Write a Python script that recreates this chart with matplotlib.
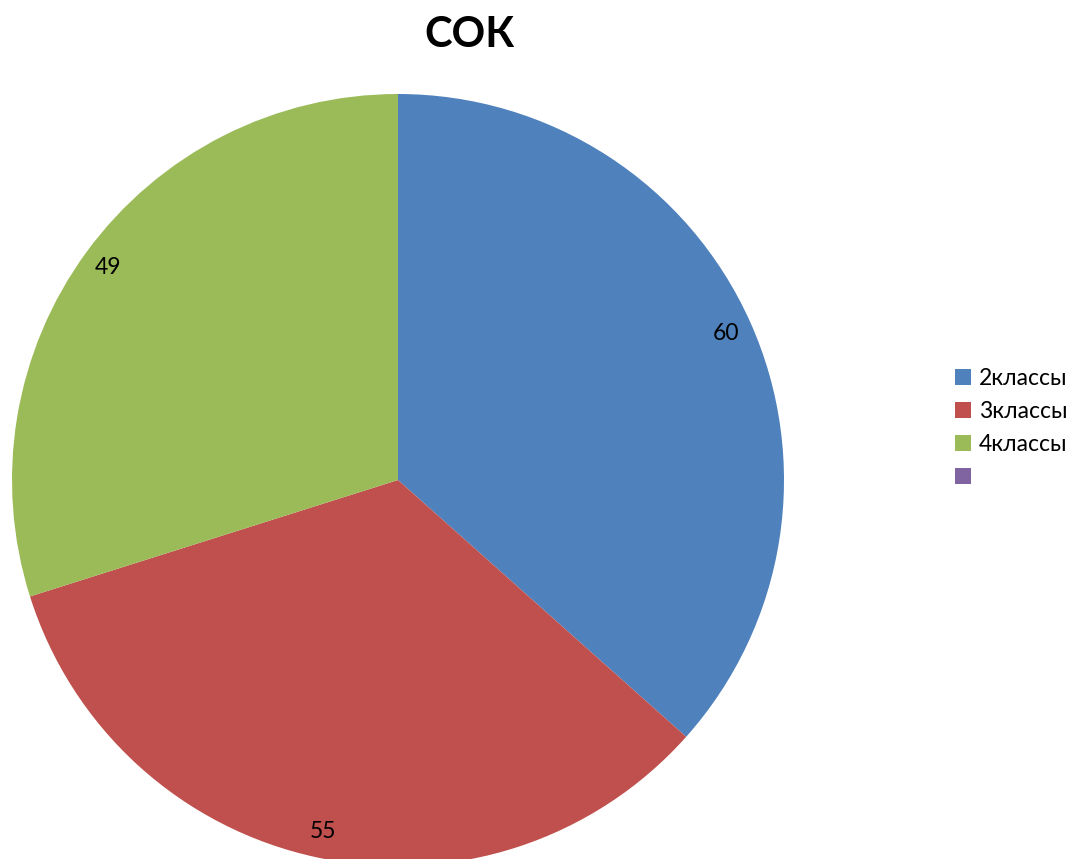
import matplotlib.pyplot as plt
from matplotlib.patches import Patch

plt.rcParams['font.family'] = ['Lato', 'DejaVu Sans']

# Данные
categories = ['2классы', '3классы', '4классы', '']
values = [60, 55, 49, 0]
colors = ['#4F81BD', '#C0504D', '#9BBB59', '#8064A2']
total = sum(values)

fig = plt.figure(figsize=(10.71, 8.59), dpi=100)
ax = fig.add_axes([12 / 1071, -7 / 859, 772 / 1071, 772 / 859])


def fmt(pct):
    v = round(pct * total / 100)
    return '' if v == 0 else str(v)


wedges, texts, autotexts = ax.pie(values, colors=colors, startangle=90,
                                  counterclock=False, radius=1,
                                  autopct=fmt, pctdistance=0.93,
                                  textprops={'fontsize': 16.5})
ax.set_xlim(-1, 1)
ax.set_ylim(-1, 1)
ax.set_aspect('equal')

fig.text(470 / 1071, 1 - 35 / 859, 'СОК', ha='center', va='center',
         fontsize=30, fontweight='bold')

handles = [Patch(facecolor=c, edgecolor='none') for c in colors]
fig.legend(handles, categories, loc='center left',
           bbox_to_anchor=(955 / 1071, 1 - 428 / 859), frameon=False,
           fontsize=16.5, handlelength=0.7, handleheight=0.7,
           handletextpad=0.35, labelspacing=0.52,
           borderpad=0, borderaxespad=0)

fig.savefig('out.png', dpi=100)
